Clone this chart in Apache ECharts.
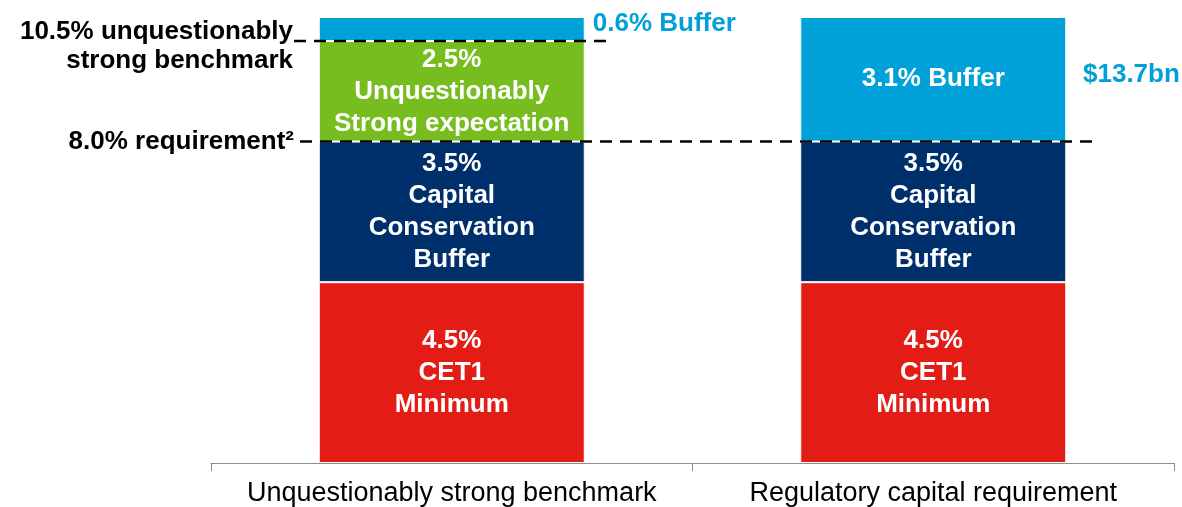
<!DOCTYPE html>
<html>
<head>
<meta charset="utf-8">
<script src="https://cdn.jsdelivr.net/npm/echarts@6/dist/echarts.min.js"></script>
<style>
    html, body { margin: 0; padding: 0; background: #fff; }
    #chart { width: 1182px; height: 507px; }
</style>
</head>
<body>
<div id="chart"></div>
<script>
var categories = ['Unquestionably strong benchmark', 'Regulatory capital requirement'];
var cet1Minimum = [4.5, 4.5];
var conservationBuffer = [3.5, 3.5];
var strongExpectation = [2.5, '-'];
var buffer = [0.6, 3.1];
var benchmarkLevel = 10.5;
var requirementLevel = 8.0;

var FONT = '"Liberation Sans", Arial, sans-serif';
var BLUE = '#00a0d8';

function innerLabel(text) {
    return {
        show: true,
        position: 'inside',
        formatter: text,
        color: '#fff',
        fontFamily: FONT,
        fontWeight: 'bold',
        fontSize: 26,
        lineHeight: 32
    };
}

var chart = echarts.init(document.getElementById('chart'));

var option = {
    animation: false,
    grid: { left: 211, right: 8, top: 17, bottom: 44 },
    xAxis: [{
        type: 'category',
        data: categories,
        axisLine: { lineStyle: { color: '#8c8c8c', width: 1 } },
        axisTick: { show: true, interval: 0, length: 8, lineStyle: { color: '#8c8c8c' } },
        axisLabel: { interval: 0, hideOverlap: false, color: '#000', fontFamily: FONT, fontSize: 27, margin: 17 }
    }, {
        type: 'value',
        min: 211,
        max: 1174,
        show: false
    }],
    yAxis: {
        type: 'value',
        min: 0,
        max: 11.1,
        show: false
    },
    series: [{
        name: 'CET1 Minimum',
        type: 'bar',
        stack: 'cap',
        barWidth: 266,
        data: cet1Minimum,
        itemStyle: { color: '#e31d16', borderColor: '#fff', borderWidth: 1 },
        label: innerLabel(function(p){ return p.value.toFixed(1) + '%\nCET1\nMinimum'; })
    }, {
        name: 'Capital Conservation Buffer',
        type: 'bar',
        stack: 'cap',
        data: conservationBuffer,
        itemStyle: { color: '#00306b', borderColor: '#fff', borderWidth: 1 },
        label: innerLabel(function(p){ return p.value.toFixed(1) + '%\nCapital\nConservation\nBuffer'; })
    }, {
        name: 'Unquestionably Strong expectation',
        type: 'bar',
        stack: 'cap',
        data: strongExpectation,
        itemStyle: { color: '#78bd1f', borderColor: '#fff', borderWidth: 1 },
        label: innerLabel(function(p){ return p.value.toFixed(1) + '%\nUnquestionably\nStrong expectation'; })
    }, {
        name: 'Buffer',
        type: 'bar',
        stack: 'cap',
        data: buffer.map(function(v, i){
            if (i === 0) {
                return {
                    value: v,
                    label: {
                        show: true,
                        position: 'right',
                        distance: 8,
                        offset: [0, -5],
                        color: BLUE,
                        fontFamily: FONT,
                        fontWeight: 'bold',
                        fontSize: 26
                    }
                };
            }
            return v;
        }),
        itemStyle: { color: BLUE, borderColor: '#fff', borderWidth: 1 },
        label: innerLabel(function(p){ return p.value.toFixed(1) + '% Buffer'; })
    }, {
        name: 'benchmark',
        type: 'line',
        xAxisIndex: 1,
        symbol: 'circle',
        symbolSize: 0,
        showSymbol: true,
        data: [
            {
                value: [294, benchmarkLevel],
                label: {
                    show: true,
                    position: 'left',
                    distance: 1,
                    offset: [0, 5],
                    align: 'right',
                    formatter: benchmarkLevel.toFixed(1) + '% unquestionably\nstrong benchmark',
                    color: '#000',
                    fontFamily: FONT,
                    fontWeight: 'bold',
                    fontSize: 26,
                    lineHeight: 29
                }
            },
            [607, benchmarkLevel]
        ],
        lineStyle: { color: '#000', width: 2.5, type: [12, 8] }
    }, {
        name: 'requirement',
        type: 'line',
        xAxisIndex: 1,
        symbol: 'circle',
        symbolSize: 0,
        showSymbol: true,
        data: [
            {
                value: [300, requirementLevel],
                label: {
                    show: true,
                    position: 'left',
                    distance: 6,
                    offset: [0, 0],
                    formatter: requirementLevel.toFixed(1) + '% requirement²',
                    color: '#000',
                    fontFamily: FONT,
                    fontWeight: 'bold',
                    fontSize: 26
                }
            },
            [1097, requirementLevel]
        ],
        lineStyle: { color: '#000', width: 2.5, type: [12, 8] }
    }],
    graphic: [{
        type: 'text',
        left: 1083,
        top: 62,
        style: {
            text: '$13.7bn',
            fill: BLUE,
            font: 'bold 26px ' + FONT
        }
    }]
};

chart.setOption(option);
</script>
</body>
</html>
